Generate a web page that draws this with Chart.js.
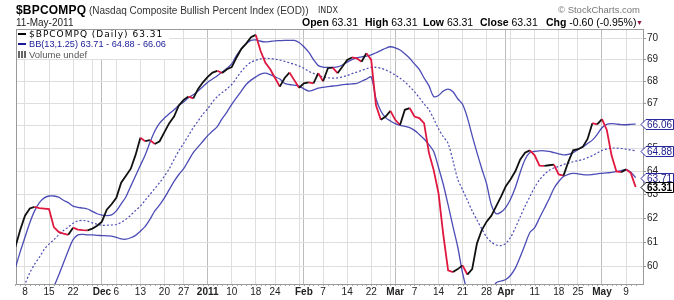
<!DOCTYPE html>
<html>
<head>
<meta charset="utf-8">
<title>$BPCOMPQ</title>
<script src="https://cdn.jsdelivr.net/npm/chart.js@4.4.1/dist/chart.umd.min.js"></script>
<style>
  html, body { margin: 0; padding: 0; background: #fff; }
  #wrap { position: relative; width: 674px; height: 300px; overflow: hidden; font-family: "Liberation Sans", Arial, sans-serif; color: #000; }
  #bpChart { position: absolute; left: 0; top: 0; }
  .txt { position: absolute; white-space: nowrap; line-height: 1; }
  .b { font-weight: bold; }
  #legendBox { position: absolute; left: 17px; top: 30px; width: 152px; height: 29px; background: #fff; }
  .dash { display: inline-block; width: 8px; height: 2px; vertical-align: middle; margin-right: 3px; position: relative; top: -1px; }
</style>
</head>
<body>
<div id="wrap">
  <canvas id="bpChart" width="674" height="300"></canvas>

  <div class="txt b" style="left:16px;top:4px;font-size:12px;letter-spacing:0.2px;">$BPCOMPQ</div>
  <div class="txt" style="left:89px;top:5.5px;font-size:10px;color:#333;">(Nasdaq Composite Bullish Percent Index (EOD))</div>
  <div class="txt" style="left:318px;top:6.5px;font-size:8px;color:#333;font-family:'DejaVu Sans',sans-serif;">INDX</div>
  <div class="txt" style="left:558px;top:5px;font-size:9.5px;color:#777;">© StockCharts.com</div>

  <div class="txt" style="left:16px;top:17.5px;font-size:10px;color:#222;">11-May-2011</div>
  <div class="txt" style="left:302px;top:17px;font-size:10.5px;"><span class="b">Open</span> <span id="vOpen"></span></div>
  <div class="txt" style="left:365px;top:17px;font-size:10.5px;"><span class="b">High</span> <span id="vHigh"></span></div>
  <div class="txt" style="left:423px;top:17px;font-size:10.5px;"><span class="b">Low</span> <span id="vLow"></span></div>
  <div class="txt" style="left:480px;top:17px;font-size:10.5px;"><span class="b">Close</span> <span id="vClose"></span></div>
  <div class="txt" style="left:546px;top:17px;font-size:10.5px;"><span class="b">Chg</span> -0.60 (-0.95%)</div>
  <div class="txt" style="left:636px;top:19px;font-size:7px;color:#8c1438;">▼</div>

  <div id="legendBox"></div>
  <div class="txt" style="left:18px;top:30px;font-size:9px;letter-spacing:1px;font-family:'DejaVu Sans',sans-serif;"><span class="dash" style="background:#000;"></span><span id="lgClose"></span></div>
  <div class="txt" style="left:18px;top:40px;font-size:9.2px;color:#1a1a99;"><span class="dash" style="background:#1a1a99;"></span><span id="lgBB"></span></div>
  <div class="txt" style="left:18px;top:50px;font-size:9.5px;color:#555;"><span style="display:inline-block;width:8px;height:7px;margin-right:3px;background:linear-gradient(90deg,#666 0 2px,#fff 2px 3px,#666 3px 5px,#fff 5px 6px,#666 6px 8px);"></span>Volume undef</div>
</div>

<script>
// trading days 0..129 = 4-Nov-2010 .. 11-May-2011
const close = [
  60.8, 61.5, 62.1, 62.4, 62.47, 62.42, 62.4, 62.38, 61.62, 61.42,
  61.35, 61.3, 61.6, 61.52, 61.5, 61.49, 61.56, 61.68, 61.85, 62.35,
  62.58, 62.85, 63.5, 63.8, 64.1, 64.7, 65.45, 65.3, 65.35, 65.18,
  65.3, 65.7, 66.1, 66.4, 66.9, 67.15, 67.3, 67.22, 67.65, 67.95,
  68.2, 68.4, 68.48, 68.38, 68.55, 68.65, 69.1, 69.5, 69.75, 70.05,
  70.16, 69.4, 68.85, 68.55, 68.15, 67.75, 68.15, 68.4, 68.05, 67.7,
  67.9, 67.95, 67.9, 68.37, 68.0, 68.6, 68.63, 68.37, 68.67, 68.98,
  69.1, 69.06, 68.9, 69.3, 69.0, 66.9, 66.25, 66.4, 66.65, 66.25,
  66.02, 66.7, 66.78, 66.4, 66.33, 66.1, 64.8, 64.04, 63.05, 61.3,
  59.85, 59.78, 59.9, 60.05, 59.68, 59.9, 60.95, 61.5, 61.85, 62.1,
  62.5, 62.9, 63.35, 63.65, 64.0, 64.5, 64.8, 64.9, 64.68, 64.23,
  64.22, 64.25, 64.28, 63.85, 63.8, 64.4, 64.9, 64.95, 65.05, 65.4,
  66.1, 66.05, 66.28, 65.8, 64.67, 63.98, 63.95, 64.07, 63.91, 63.31
];
const bbUpper = [
  59.95, 60.6, 61.2, 61.8, 62.3, 62.65, 62.85, 62.93, 62.93, 62.88,
  62.75, 62.65, 62.5, 62.45, 62.42, 62.38, 62.28, 62.18, 62.12, 62.1,
  62.13, 62.3, 62.6, 62.9, 63.35, 63.8, 64.25, 64.7, 65.25, 65.75,
  66.1, 66.33, 66.52, 66.7, 66.9, 67.05, 67.25, 67.38, 67.55, 67.75,
  67.95, 68.1, 68.25, 68.42, 68.6, 68.8, 69.2, 69.5, 69.75, 69.9,
  69.92, 69.86, 69.83, 69.85, 69.88, 69.89, 69.9, 69.9, 69.9, 69.8,
  69.6, 69.35, 69.0, 68.72, 68.65, 68.64, 68.64, 68.66, 68.75, 68.88,
  69.0, 69.08, 69.13, 69.16, 69.22, 69.32, 69.42, 69.53, 69.6, 69.55,
  69.45, 69.27, 69.06, 68.8, 68.55, 68.15, 67.8, 67.3, 67.35, 67.55,
  67.64, 67.52, 67.2, 66.95, 66.35, 65.55, 64.8, 64.1, 63.45, 62.55,
  62.18, 62.25, 62.45, 62.8, 63.3, 63.95, 64.5, 64.8, 64.85, 64.88,
  64.88, 64.85, 64.8, 64.75, 64.7, 64.72, 64.8, 64.93, 65.05, 65.2,
  65.35, 65.6, 65.9, 66.05, 66.08, 66.06, 66.04, 66.03, 66.05, 66.06
];
const bbMiddle = [
  58.5, 58.9, 59.3, 59.75, 60.1, 60.38, 60.7, 60.92, 61.1, 61.3,
  61.48, 61.62, 61.78, 61.88, 61.9, 61.87, 61.8, 61.74, 61.7, 61.7,
  61.71, 61.73, 61.82, 61.95, 62.12, 62.32, 62.5, 62.75, 63.0, 63.25,
  63.5, 63.78, 64.1, 64.5, 64.88, 65.2, 65.55, 65.9, 66.2, 66.5,
  66.75, 67.05, 67.3, 67.48, 67.65, 67.85, 68.15, 68.45, 68.7, 68.88,
  68.97, 69.03, 69.06, 69.05, 69.02, 68.98, 68.92, 68.85, 68.78, 68.7,
  68.6, 68.46, 68.36, 68.26, 68.2, 68.16, 68.14, 68.15, 68.2, 68.26,
  68.35, 68.42, 68.5, 68.57, 68.65, 68.64, 68.6, 68.52, 68.42, 68.28,
  68.14, 67.97, 67.75, 67.52, 67.25, 66.97, 66.7, 66.3, 65.85, 65.5,
  65.2, 64.45, 63.65, 63.2, 62.75, 62.3, 61.92, 61.55, 61.21, 61.0,
  60.88, 60.86, 60.95, 61.2, 61.6, 62.05, 62.5, 62.9, 63.3, 63.62,
  63.85, 64.03, 64.13, 64.2, 64.28, 64.34, 64.4, 64.45, 64.5, 64.58,
  64.67, 64.78, 64.9, 64.96, 65.0, 65.0, 64.98, 64.95, 64.92, 64.88
];
const bbLower = [
  57.3, 57.5, 57.7, 57.9, 58.1, 58.35, 58.6, 58.9, 59.2, 59.65,
  60.15, 60.65, 61.1, 61.3, 61.32, 61.3, 61.3, 61.28, 61.27, 61.26,
  61.25, 61.2, 61.13, 61.12, 61.18, 61.28, 61.45, 61.65, 61.95, 62.3,
  62.55, 62.85, 63.2, 63.55, 63.85, 64.1, 64.45, 64.8, 65.05, 65.3,
  65.55, 65.75, 65.95, 66.3, 66.6, 66.95, 67.25, 67.55, 67.85, 68.05,
  68.2, 68.33, 68.37, 68.3, 68.2, 68.1, 67.9, 67.85, 67.82, 67.78,
  67.65, 67.55, 67.6, 67.68, 67.72, 67.75, 67.78, 67.8, 67.84, 67.86,
  67.88, 67.9, 68.0, 68.1, 68.2, 67.2, 66.65, 66.35, 66.2, 66.08,
  66.0, 65.96, 65.9, 65.78, 65.6, 65.4, 65.15, 64.85, 64.15, 63.42,
  62.55, 61.65, 60.8, 59.75, 59.0, 58.6, 58.4, 58.4, 58.6, 59.0,
  59.35, 59.42, 59.48, 59.65, 59.95, 60.4, 60.9, 61.4, 61.6, 62.0,
  62.4, 62.8, 63.25, 63.55, 63.76, 63.86, 63.9, 63.88, 63.84, 63.83,
  63.85, 63.88, 63.9, 63.92, 63.94, 63.97, 64.02, 64.07, 63.95, 63.71
];

// x axis: grid lines on first trading day of each week / month
const gridDays = [2, 7, 12, 16, 18, 21, 26, 31, 35, 40, 45, 50, 54, 59, 60, 64, 69, 74, 78, 79,
                  83, 88, 93, 98, 102, 103, 108, 113, 117, 122, 127];
const labelDays = [2, 7, 12, 18, 21, 26, 31, 35, 40, 45, 50, 54, 60, 64, 69, 74, 79, 83, 88, 93,
                   98, 102, 108, 113, 117, 122, 127];
const labelText = ["8", "15", "22", "Dec", "6", "13", "20", "27", "2011", "10", "18", "24", "Feb", "7", "14", "22", "Mar", "7", "14", "21",
                   "28", "Apr", "11", "18", "25", "May", "9"];
const monthDays = [18, 40, 60, 79, 102, 122];
const yTicks = [60, 61, 62, 63, 64, 65, 66, 67, 68, 69, 70];

const RED = "#e0173f";
const BLACK = "#111111";
const BLUE = "rgba(45,45,170,0.85)";

const last = close.length - 1;
const fmt = v => v.toFixed(2);
["vOpen", "vHigh", "vLow", "vClose"].forEach(id => document.getElementById(id).textContent = fmt(close[last]));
document.getElementById("lgClose").textContent = "$BPCOMPQ (Daily) " + fmt(close[last]);
document.getElementById("lgBB").textContent = "BB(13,1.25) " + fmt(bbLower[last]) + " - " + fmt(bbMiddle[last]) + " - " + fmt(bbUpper[last]);

const dayIndex = close.map((v, i) => i);

const chartExtras = {
    id: "chartExtras",
    beforeDatasetsDraw(chart) {
        const { ctx, chartArea: a, scales } = chart;
        ctx.save();
        ctx.strokeStyle = "#a8a8a8";
        ctx.lineWidth = 1;
        ctx.beginPath();
        dayIndex.forEach(i => {
            const x = Math.round(scales.x.getPixelForValue(i)) + 0.5;
            ctx.moveTo(x, a.bottom);
            ctx.lineTo(x, a.bottom + 2);
        });
        ctx.stroke();
        ctx.strokeStyle = "#9a9a9a";
        ctx.strokeRect(Math.round(a.left) + 0.5, Math.round(a.top) + 0.5, Math.round(a.right - a.left), Math.round(a.bottom - a.top));
        ctx.restore();
    },
    afterDraw(chart) {
        const { ctx, chartArea: a, scales } = chart;
        const tags = [
            { v: bbUpper[last], color: "#2a2aa0", text: "#1a1a8a", bold: false },
            { v: bbMiddle[last], color: "#2a2aa0", text: "#1a1a8a", bold: false },
            { v: bbLower[last], color: "#2a2aa0", text: "#1a1a8a", bold: false },
            { v: close[last], color: "#000", text: "#000", bold: true }
        ];
        ctx.save();
        tags.forEach(t => {
            const y = Math.round(scales.y.getPixelForValue(t.v)) + 0.5;
            const x0 = a.right - 2;
            ctx.beginPath();
            ctx.moveTo(x0, y);
            ctx.lineTo(x0 + 5, y - 5);
            ctx.lineTo(673.5, y - 5);
            ctx.lineTo(673.5, y + 5);
            ctx.lineTo(x0 + 5, y + 5);
            ctx.closePath();
            ctx.fillStyle = "#fff";
            ctx.fill();
            ctx.lineWidth = 1;
            ctx.strokeStyle = t.color;
            ctx.stroke();
            ctx.fillStyle = t.text;
            ctx.font = (t.bold ? "bold " : "") + "10px 'Liberation Sans', Arial, sans-serif";
            ctx.textBaseline = "middle";
            ctx.textAlign = "left";
            ctx.fillText(fmt(t.v), x0 + 6, y + 0.5);
        });
        ctx.restore();
    }
};

new Chart(document.getElementById("bpChart"), {
    type: "line",
    data: {
        labels: dayIndex,
        datasets: [
            {
                label: "$BPCOMPQ",
                data: close,
                borderColor: BLACK,
                borderWidth: 1.8,
                pointRadius: 0,
                tension: 0,
                segment: {
                    borderColor: c => c.p1.parsed.y < c.p0.parsed.y ? RED : BLACK
                }
            },
            { label: "BB upper", data: bbUpper, borderColor: BLUE, borderWidth: 1.3, pointRadius: 0, tension: 0.3 },
            { label: "BB middle", data: bbMiddle, borderColor: BLUE, borderWidth: 1.2, borderDash: [2, 2], pointRadius: 0, tension: 0.3 },
            { label: "BB lower", data: bbLower, borderColor: BLUE, borderWidth: 1.3, pointRadius: 0, tension: 0.3 }
        ]
    },
    options: {
        responsive: false,
        animation: false,
        events: [],
        layout: { padding: { left: 16, top: 29, right: 0, bottom: 0 } },
        scales: {
            x: {
                type: "linear",
                min: 0.13,
                max: 130.53,
                afterBuildTicks: s => {
                    s.ticks = gridDays.map(d => ({ value: d, major: monthDays.includes(d) }));
                },
                afterFit: s => { s.height = 16; },
                ticks: {
                    autoSkip: false,
                    maxRotation: 0,
                    minRotation: 0,
                    padding: 2,
                    color: "#222",
                    font: c => ({ family: "'Liberation Sans', Arial, sans-serif", size: 10, weight: c.tick && c.tick.major ? "bold" : "normal" }),
                    callback: v => {
                        const k = labelDays.indexOf(v);
                        return k < 0 ? "" : labelText[k];
                    }
                },
                grid: {
                    drawTicks: false,
                    color: c => c.tick && c.tick.major ? "#bdbdbd" : "#dedede"
                },
                border: { display: false }
            },
            y: {
                type: "logarithmic",
                position: "right",
                min: 59.3,
                max: 70.44,
                afterBuildTicks: s => {
                    s.ticks = yTicks.map(v => ({ value: v }));
                    s.min = 59.3;
                    s.max = 70.44;
                },
                afterFit: s => { s.width = 31; },
                ticks: {
                    padding: 1,
                    color: "#222",
                    font: { family: "'Liberation Sans', Arial, sans-serif", size: 10 },
                    callback: v => String(v)
                },
                grid: { color: "#dedede", tickLength: 3, tickColor: "#9a9a9a" },
                border: { display: false }
            }
        },
        plugins: {
            legend: { display: false },
            tooltip: { enabled: false },
            title: { display: false }
        }
    },
    plugins: [chartExtras]
});
</script>
</body>
</html>
